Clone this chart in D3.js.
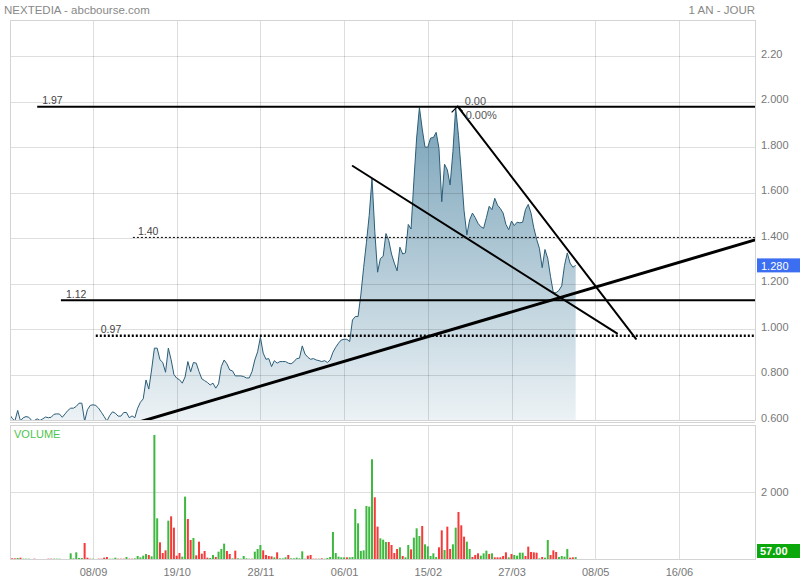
<!DOCTYPE html>
<html><head><meta charset="utf-8">
<script src="https://cdn.jsdelivr.net/npm/d3@7"></script>
<style>
body{margin:0;background:#fff}
svg{display:block}
text{font-family:"Liberation Sans",Arial,sans-serif}
</style>
</head><body>
<svg id="c" width="800" height="580"></svg>
<script>
// ---------- DATA ----------
const title = "NEXTEDIA - abcbourse.com";
const period = "1 AN - JOUR";

const price = [
0.627,0.608,0.595,0.642,0.596,0.610,0.615,0.612,0.598,0.598,
0.605,0.598,0.605,0.613,0.610,0.612,0.625,0.627,0.626,0.612,
0.627,0.642,0.652,0.652,0.660,0.674,0.674,0.595,0.645,0.664,
0.667,0.664,0.652,0.634,0.615,0.595,0.620,0.636,0.630,0.617,
0.617,0.633,0.633,0.610,0.618,0.610,0.652,0.678,0.693,0.776,
0.736,0.820,0.916,0.916,0.865,0.853,0.810,0.916,0.865,0.800,
0.784,0.777,0.762,0.789,0.857,0.812,0.853,0.850,0.813,0.781,
0.773,0.765,0.754,0.762,0.740,0.759,0.835,0.864,0.847,0.820,
0.816,0.794,0.794,0.794,0.791,0.785,0.785,0.813,0.864,0.900,
0.964,0.894,0.867,0.870,0.835,0.861,0.850,0.857,0.857,0.857,
0.850,0.847,0.856,0.870,0.872,0.926,0.890,0.876,0.867,0.870,
0.864,0.861,0.857,0.861,0.853,0.864,0.898,0.920,0.938,0.952,
0.955,0.955,0.945,1.040,1.055,1.055,1.150,1.270,1.380,1.500,
1.663,1.430,1.250,1.310,1.320,1.420,1.390,1.330,1.290,1.256,
1.360,1.330,1.335,1.460,1.440,1.650,1.840,1.974,1.880,1.800,
1.800,1.840,1.842,1.865,1.795,1.560,1.725,1.700,1.634,1.780,
1.974,1.850,1.690,1.520,1.414,1.480,1.510,1.490,1.465,1.450,
1.443,1.490,1.540,1.525,1.575,1.545,1.530,1.510,1.460,1.437,
1.475,1.455,1.470,1.467,1.470,1.525,1.548,1.510,1.445,1.395,
1.355,1.270,1.350,1.310,1.230,1.160,1.160,1.170,1.190,1.280,
1.335,1.290,1.272,1.280
];

const volume = [
20,20,20,30,40,10,10,10,0,10,
0,0,0,0,10,10,10,10,10,0,
0,0,170,20,200,30,30,480,40,10,
10,0,10,10,40,60,10,10,40,10,
10,10,60,10,10,20,90,50,100,150,
120,80,3720,1220,500,180,260,1150,1280,940,
100,180,70,1870,1200,570,630,110,520,160,
240,40,30,120,60,220,300,460,240,150,
20,250,20,10,90,20,10,10,220,300,
420,260,120,90,80,50,200,20,20,50,
120,20,20,40,20,230,10,100,120,10,
10,10,20,10,30,60,810,180,70,50,
50,50,50,60,1500,1070,240,260,1590,1570,
2990,1850,970,620,580,510,510,420,180,300,
350,90,50,420,290,640,920,690,990,440,
380,90,170,60,350,860,270,970,300,440,
940,1410,1010,670,520,300,60,120,170,100,
170,250,150,170,50,50,50,90,200,50,
150,120,100,190,190,90,370,210,200,190,
20,60,40,570,120,260,210,60,90,70,
300,40,50,57
];

// 1 = up day (green), 0 = down day (red)
const volUp = [
0,0,0,1,0,1,1,1,1,0,
1,1,1,1,0,0,1,1,1,1,
1,1,1,1,1,1,1,0,0,0,
1,1,0,0,0,0,1,1,1,0,
0,0,1,0,0,1,1,1,1,1,
0,1,1,1,0,0,0,1,0,0,
0,0,1,1,0,0,1,0,0,0,
0,0,1,1,0,1,1,1,0,0,
1,0,1,1,1,1,1,0,1,1,
1,0,0,0,0,1,0,1,1,1,
0,1,1,1,1,1,1,0,0,0,
0,1,0,1,1,1,1,1,1,1,
1,0,1,1,1,1,1,1,1,1,
1,0,0,1,1,1,0,0,0,0,
1,0,1,1,0,1,1,1,0,1,
1,1,1,1,0,0,1,0,0,1,
1,0,0,0,1,1,0,0,0,1,
1,1,0,1,0,0,0,0,0,1,
0,1,1,1,1,0,0,0,0,0,
1,0,1,1,0,0,0,1,1,1,
1,0,0,1
];

// x axis (trading-day index of each labelled date)
const dateTickIdx = [30,60,90,120,150,180,210,240];
const dateTickLabels = ["08/09","19/10","28/11","06/01","15/02","27/03","08/05","16/06"];
const dayCount = 267;

// price axis
const priceTicks = [0.6,0.8,1.0,1.2,1.4,1.6,1.8,2.0,2.2];
const priceTickLabels = ["0.600","0.800","1.000","1.200","1.400","1.600","1.800","2.000","2.20"];
const volTicks = [2000];
const volTickLabels = ["2 000"];

// horizontal levels drawn by the user: value, label, start index, style
const levelValues = [1.978, 1.403, 1.127, 0.970];
const levelLabels = ["1.97", "1.40", "1.12", "0.97"];
const levelStart = [10, 44.3, 18.5, 31];
const levelDotted = [false, true, false, true];
const levelWidth = [2, 1, 2, 2.5];

// trend lines: [startIdx, startPrice, endIdx, endPrice, width]
const trendLines = [
  [46.5, 0.591, 267, 1.391, 3],
  [123.1, 1.717, 217.8, 0.981, 2],
  [160.7, 1.979, 224.6, 0.957, 2]
];
// fibonacci marker anchor
const fibAnchor = [160.7, 1.979];
const fibTexts = ["0.00", "0.00%"];

// ---------- LAYOUT ----------
const W = 800, H = 580;
const L = 10, R = 755;
const pTop = 20, pBot = 421;
const vTop = 425, vBot = 559;

const svg = d3.select("#c");

const x = d3.scaleLinear().domain([0, dayCount]).range([9.3, 9.3 + 2.79 * dayCount]);
const yP = d3.scaleLinear().domain([0.6, 2.2]).range([420, 56.2]);
const yV = d3.scaleLinear().domain([0, 2000]).range([559, 492.3]);

const defs = svg.append("defs");
const grad = defs.append("linearGradient").attr("id", "g")
  .attr("gradientUnits", "userSpaceOnUse")
  .attr("x1", 0).attr("y1", yP(1.98)).attr("x2", 0).attr("y2", yP(0.6));
grad.append("stop").attr("offset", 0).attr("stop-color", "#78a2b8");
grad.append("stop").attr("offset", 1).attr("stop-color", "#ecf2f5");
defs.append("clipPath").attr("id", "cp").append("rect")
  .attr("x", L).attr("y", pTop).attr("width", R - L).attr("height", 420 - pTop);
defs.append("clipPath").attr("id", "cv").append("rect")
  .attr("x", L).attr("y", vTop).attr("width", R - L).attr("height", vBot - vTop);

// header
svg.append("text").attr("x", 4).attr("y", 14).attr("font-size", 11.5).attr("fill", "#888").text(title);
svg.append("text").attr("x", R).attr("y", 14).attr("text-anchor", "end").attr("font-size", 11.5).attr("fill", "#888").text(period);

// ---------- PRICE PANEL ----------
const gp = svg.append("g").attr("clip-path", "url(#cp)");
const idx = d3.range(price.length);

gp.append("path").datum(idx)
  .attr("fill", "url(#g)")
  .attr("d", d3.area().x(i => x(i)).y0(yP(0.6)).y1(i => yP(price[i])));

// grid (drawn over the area, semi transparent)
const gridCol = "rgba(0,0,0,0.13)";
gp.selectAll(".hg").data(priceTicks).join("line")
  .attr("x1", L).attr("x2", R)
  .attr("y1", d => Math.round(yP(d)) + 0.5).attr("y2", d => Math.round(yP(d)) + 0.5)
  .attr("stroke", gridCol);
gp.selectAll(".vg").data(dateTickIdx).join("line")
  .attr("x1", d => Math.round(x(d)) + 0.5).attr("x2", d => Math.round(x(d)) + 0.5)
  .attr("y1", pTop).attr("y2", 420)
  .attr("stroke", gridCol);

gp.append("path").datum(idx)
  .attr("fill", "none").attr("stroke", "#2b5d78").attr("stroke-width", 1)
  .attr("d", d3.line().x(i => x(i)).y(i => yP(price[i])));

// levels
levelValues.forEach((v, k) => {
  const yy = yP(v);
  gp.append("line")
    .attr("x1", x(levelStart[k])).attr("x2", R)
    .attr("y1", yy).attr("y2", yy)
    .attr("stroke", "#000").attr("stroke-width", levelWidth[k])
    .attr("stroke-dasharray", levelDotted[k] ? "2,2" : null);
  svg.append("text").attr("x", x(levelStart[k]) + 5).attr("y", yy - 2.5)
    .attr("font-size", 10.5).attr("fill", "#444").text(levelLabels[k]);
});

// trend lines
trendLines.forEach(t => {
  gp.append("line")
    .attr("x1", x(t[0])).attr("y1", yP(t[1]))
    .attr("x2", x(t[2])).attr("y2", yP(t[3]))
    .attr("stroke", "#000").attr("stroke-width", t[4]).attr("stroke-linecap", "round");
});

// fib marker
const fx = x(fibAnchor[0]), fy = yP(fibAnchor[1]);
svg.append("path").attr("d", `M${fx - 6},${fy + 6}L${fx},${fy}L${fx + 5},${fy + 5}`)
  .attr("fill", "none").attr("stroke", "#000").attr("stroke-width", 1.2);
svg.append("text").attr("x", fx + 7).attr("y", fy - 1).attr("font-size", 11).attr("fill", "#555").text(fibTexts[0]);
svg.append("text").attr("x", fx + 8).attr("y", fy + 13).attr("font-size", 11).attr("fill", "#555").text(fibTexts[1]);

// price panel frame
svg.append("rect").attr("x", L + 0.5).attr("y", pTop + 0.5).attr("width", R - L).attr("height", 400)
  .attr("fill", "none").attr("stroke", "#d4d4d4");
svg.append("line").attr("x1", L).attr("x2", R).attr("y1", 422.5).attr("y2", 422.5).attr("stroke", "#d4d4d4");

// price axis
const pa = svg.append("g").attr("transform", `translate(${R + 6},-2.5)`)
  .call(d3.axisRight(yP).tickValues(priceTicks).tickSize(0)
    .tickFormat((d, k) => priceTickLabels[k]));
pa.select(".domain").remove();
pa.selectAll("text").attr("font-size", 11).attr("fill", "#777")
  .attr("font-family", '"Liberation Sans",Arial,sans-serif').attr("x", 0);

// last price tag
const lastP = price[price.length - 1];
svg.append("rect").attr("x", R + 2).attr("y", yP(lastP) - 7).attr("width", W - R - 2).attr("height", 14).attr("fill", "#3b6ef0");
svg.append("text").attr("x", R + 6).attr("y", yP(lastP) + 4.5).attr("font-size", 11).attr("fill", "#fff")
  .text(d3.format(".3f")(lastP));

// ---------- VOLUME PANEL ----------
const gv = svg.append("g").attr("clip-path", "url(#cv)");
gv.selectAll(".vh").data(volTicks).join("line")
  .attr("x1", L).attr("x2", R)
  .attr("y1", d => Math.round(yV(d)) + 0.5).attr("y2", d => Math.round(yV(d)) + 0.5)
  .attr("stroke", "#dedede");
gv.selectAll(".vv").data(dateTickIdx).join("line")
  .attr("x1", d => Math.round(x(d)) + 0.5).attr("x2", d => Math.round(x(d)) + 0.5)
  .attr("y1", vTop).attr("y2", vBot)
  .attr("stroke", "#dedede");
gv.selectAll(".bar").data(idx).join("rect")
  .attr("x", i => x(i) - 1).attr("width", 2)
  .attr("y", i => yV(volume[i])).attr("height", i => yV(0) - yV(volume[i]))
  .attr("fill", i => volUp[i] ? "#3fb83f" : "#f53a3a");

svg.append("rect").attr("x", L + 0.5).attr("y", vTop + 0.5).attr("width", R - L).attr("height", vBot - vTop)
  .attr("fill", "none").attr("stroke", "#d4d4d4");
svg.append("text").attr("x", 14).attr("y", 438).attr("font-size", 11).attr("fill", "#4cc44c").text("VOLUME");

const va = svg.append("g").attr("transform", `translate(${R + 6},0)`)
  .call(d3.axisRight(yV).tickValues(volTicks).tickSize(0).tickFormat((d, k) => volTickLabels[k]));
va.select(".domain").remove();
va.selectAll("text").attr("font-size", 11).attr("fill", "#777")
  .attr("font-family", '"Liberation Sans",Arial,sans-serif').attr("x", 0);

const lastV = volume[volume.length - 1];
svg.append("rect").attr("x", R + 2).attr("y", 544).attr("width", W - R - 2).attr("height", 14).attr("fill", "#0aa80a");
svg.append("text").attr("x", R + 5).attr("y", 555).attr("font-size", 11).attr("font-weight", "bold").attr("fill", "#fff")
  .text(d3.format(".2f")(lastV));

// date axis
const xa = svg.append("g").attr("transform", `translate(0,${vBot + 6})`)
  .call(d3.axisBottom(x).tickValues(dateTickIdx).tickSize(0).tickFormat((d, k) => dateTickLabels[k]));
xa.select(".domain").remove();
xa.selectAll("text").attr("font-size", 11).attr("fill", "#777")
  .attr("font-family", '"Liberation Sans",Arial,sans-serif');
</script>
</body></html>
